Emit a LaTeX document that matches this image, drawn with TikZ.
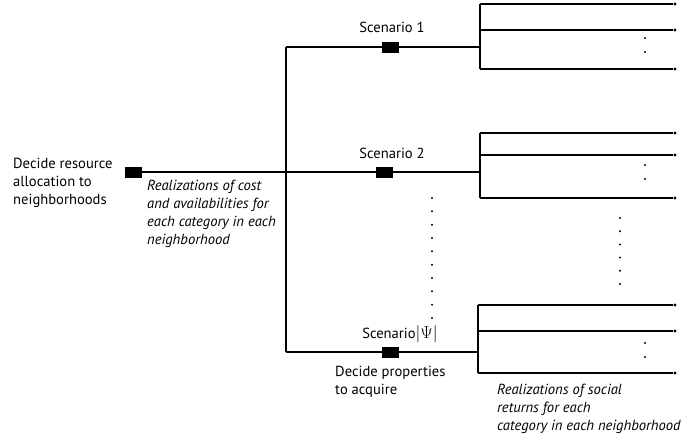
\documentclass[tikz,border=0pt]{standalone}
\usepackage[no-math]{fontspec}
\setmainfont{PT Sans}
\begin{document}
\begin{tikzpicture}[x=1pt,y=-1pt,
  ln/.style={line width=1.1pt},
  dec/.style={draw,fill=black,minimum width=16pt,minimum height=10pt,inner sep=0pt,line width=0.4pt},
  enddot/.style={circle,fill=black,minimum size=3.4pt,inner sep=0pt},
  txt/.style={font=\fontsize{14.6}{18}\selectfont,align=left,inner sep=0pt,anchor=base west},
  itxt/.style={font=\fontsize{14.6}{18}\selectfont\itshape,align=left,inner sep=0pt,anchor=base west},
  lab/.style={font=\fontsize{14.6}{18}\selectfont,inner sep=0pt,anchor=base}
]
\useasboundingbox (0,0) rectangle (682,437);

% decision boxes
\node[dec] (root) at (133,172) {};
\node[dec] (s1) at (390,47) {};
\node[dec] (s2) at (384,172) {};
\node[dec] (sp) at (390,352) {};

% main tree
\coordinate (top) at (286,47);
\coordinate (bot) at (286,352);
\coordinate (h1) at (480,47);
\coordinate (h2) at (480,172);
\coordinate (hp) at (478,352);
\draw[ln] (top) -- (bot);
\draw[ln] (root) -- (s2) -- (h2);
\draw[ln] (top) -- (s1) -- (h1);
\draw[ln] (bot) -- (sp) -- (hp);

% subtree 1
\coordinate (a1) at (480,4);
\coordinate (b1) at (480,30);
\coordinate (c1) at (480,69);
\node[enddot] (ea1) at (675,4) {};
\node[enddot] (eb1) at (675,30) {};
\node[enddot] (ec1) at (675,69) {};
\draw[ln] (a1) -- (c1);
\draw[ln] (a1) -- (ea1);
\draw[ln] (b1) -- (eb1);
\draw[ln] (c1) -- (ec1);

% subtree 2
\coordinate (a2) at (480,133);
\coordinate (b2) at (480,155);
\coordinate (c2) at (480,198);
\node[enddot] (ea2) at (675,133) {};
\node[enddot] (eb2) at (675,155) {};
\node[enddot] (ec2) at (675,198) {};
\draw[ln] (a2) -- (c2);
\draw[ln] (a2) -- (ea2);
\draw[ln] (b2) -- (eb2);
\draw[ln] (c2) -- (ec2);

% subtree psi
\coordinate (ap) at (478,305);
\coordinate (bp) at (478,331);
\coordinate (cp) at (478,373);
\node[enddot] (eap) at (675,305) {};
\node[enddot] (ebp) at (675,331) {};
\node[enddot] (ecp) at (675,373) {};
\draw[ln] (ap) -- (cp);
\draw[ln] (ap) -- (eap);
\draw[ln] (bp) -- (ebp);
\draw[ln] (cp) -- (ecp);

% ellipsis dots
\foreach \y in {38,52} \fill (645,\y) circle (1.1pt);
\foreach \y in {165,179} \fill (645,\y) circle (1.1pt);
\foreach \y in {343,357} \fill (645,\y) circle (1.1pt);
\foreach \k in {0,...,9} \fill (432,198+13.33*\k) circle (1.1pt);
\foreach \k in {0,...,5} \fill (620,218+13.2*\k) circle (1.1pt);

% labels
\node[txt] (t0) at (13,204) {Decide resource\\allocation to\\neighborhoods};
\node[itxt] (t1) at (147,244) {Realizations of cost\\and availabilities for\\each category in each\\neighborhood};
\node[lab] (l1) at (392,32) {Scenario 1};
\node[lab] (l2) at (392,158) {Scenario 2};
\node[lab] (lp) at (400,338) {Scenario{\fontsize{17}{18}\selectfont$|\Psi|$}};
\node[txt] (t2) at (335,394) {Decide properties\\to acquire};
\node[itxt] (t3) at (497,430) {Realizations of social\\returns for each\\category in each neighborhood};
\end{tikzpicture}
\end{document}
